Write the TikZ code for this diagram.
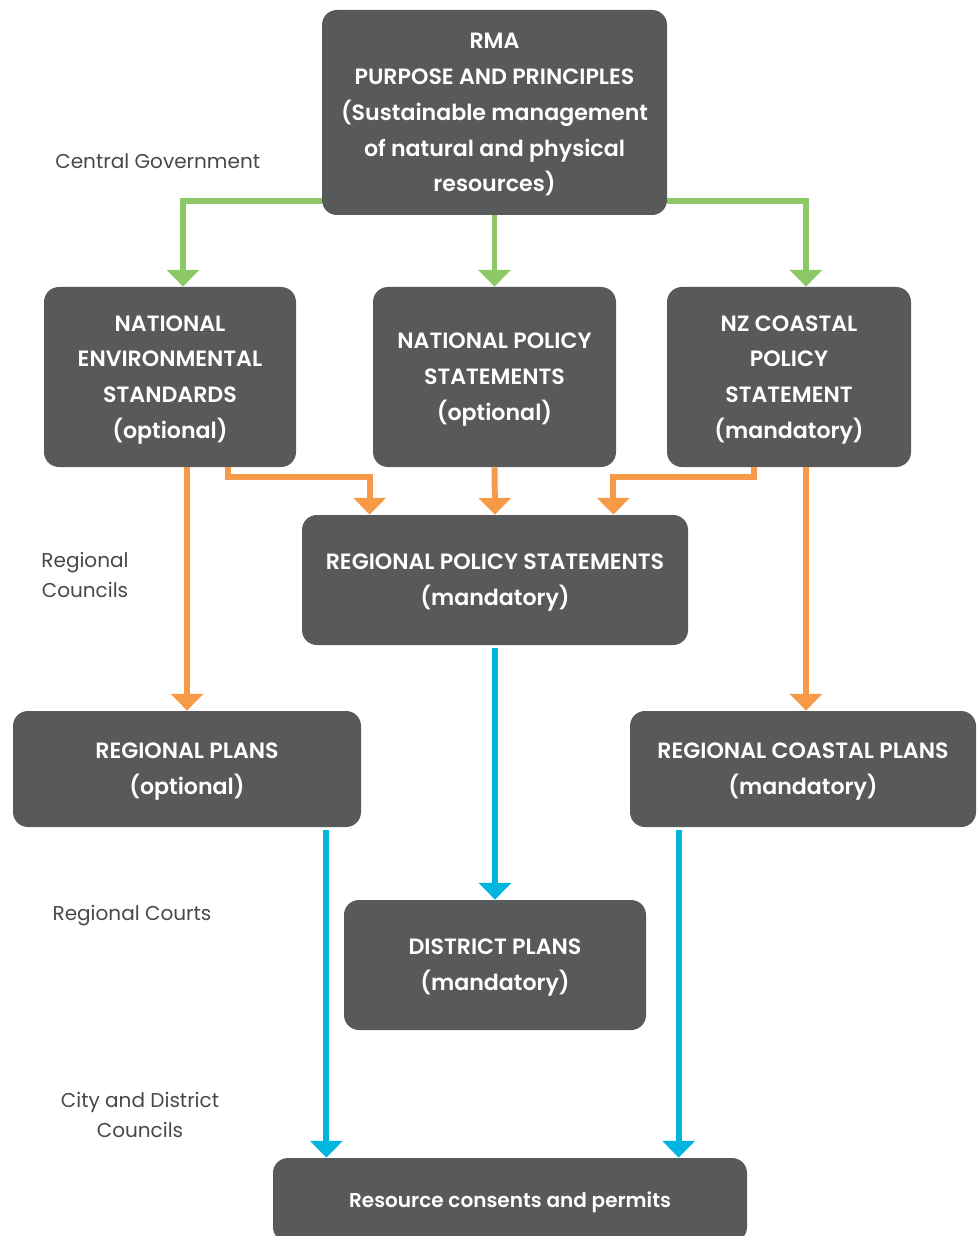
\documentclass[tikz,border=0pt]{standalone}
\usepackage{fontspec}
\setmainfont{Poppins}[BoldFont={Poppins SemiBold}]
\usepackage{tikz}
\usetikzlibrary{calc}
\usetikzlibrary{arrows.meta}
\definecolor{boxgray}{HTML}{58595B}
\definecolor{labelgray}{HTML}{48484A}
\definecolor{natgreen}{HTML}{8CC866}
\definecolor{regorange}{HTML}{F79A48}
\definecolor{distblue}{HTML}{00B6DE}
\tikzset{boxsize/.style 2 args={minimum width=#1*0.02cm, minimum height=#2*0.02cm}}
\tikzstyle{box}=[fill=boxgray, rounded corners=8.5pt, text=white, align=center, inner sep=0pt, text depth=-2.5pt, font=\fontsize{12.6}{20.4}\selectfont\bfseries]
\tikzstyle{lbl}=[text=labelgray, align=center, inner sep=0pt, font=\fontsize{11.4}{17}\selectfont]
\tikzstyle{flow}=[line width=3.4pt, ->]

\begin{document}
\begin{tikzpicture}[x=0.02cm, y=-0.02cm, >={Triangle[width=18pt,length=9.5pt]}]
                \useasboundingbox (0, 0) rectangle (976, 1236);
                \node [box, boxsize={345}{205}] (rma) at (494.5, 112.5) {RMA\\PURPOSE AND PRINCIPLES\\(Sustainable management\\of natural and physical\\resources)};
                \node [box, boxsize={252}{180}] (nes) at (170, 377) {NATIONAL\\ENVIRONMENTAL\\STANDARDS\\(optional)};
                \node [box, boxsize={243}{180}] (nps) at (494.5, 377) {NATIONAL POLICY\\STATEMENTS\\(optional)};
                \node [box, boxsize={244}{180}] (nzc) at (789, 377) {NZ COASTAL\\POLICY\\STATEMENT\\(mandatory)};
                \node [box, boxsize={386}{130}] (rps) at (495, 580) {REGIONAL POLICY STATEMENTS\\(mandatory)};
                \node [box, boxsize={348}{116}] (rp) at (187, 769) {REGIONAL PLANS\\(optional)};
                \node [box, boxsize={346}{116}] (rcp) at (803, 769) {REGIONAL COASTAL PLANS\\(mandatory)};
                \node [box, boxsize={302}{130}] (dp) at (495, 965) {DISTRICT PLANS\\(mandatory)};
                \node [box, boxsize={474}{84}, font=\fontsize{11.4}{20.4}\selectfont\bfseries] (rc) at (510, 1200) {Resource consents and permits};

                \node [lbl, anchor=west] (cg) at (55, 161) {Central Government};
                \node [lbl] (rcn) at (85, 575) {Regional\\Councils};
                \node [lbl] (rct) at (132, 916) {Regional Courts};
                \node [lbl] (cdc) at (140, 1115) {City and District\\Councils};

                \coordinate (g1) at ($(rma.south west)+(0,-14)$);
                \coordinate (g2) at ($(rma.south east)+(0,-14)$);
                \draw [natgreen, flow] (g1) -| ($(nes.north)+(13,0)$);
                \draw [natgreen, flow] (rma.south) -- (nps.north);
                \draw [natgreen, flow] (g2) -| ($(nzc.north)+(17,0)$);

                \coordinate (o1) at ($(nes.south)+(58,0)$);
                \coordinate (o2) at ($(nzc.south)+(-35,0)$);
                \coordinate (o3) at ($(nzc.south)+(17,0)$);
                \draw [regorange, flow] (nes.south -| rp.north) -- (rp.north);
                \draw [regorange, flow] (o1) -- ++(0, 10) -| ($(rps.north west)+(68,0)$);
                \draw [regorange, flow] (nps.south) -- (rps.north);
                \draw [regorange, flow] (o2) -- ++(0, 10) -| ($(rps.north east)+(-75,0)$);
                \draw [regorange, flow] (o3) -- (o3 |- rcp.north);

                \coordinate (b1) at ($(rp.south east)+(-35,3)$);
                \coordinate (b2) at ($(rcp.south west)+(49,3)$);
                \draw [distblue, flow] ($(rps.south)+(0,3)$) -- (dp.north);
                \draw [distblue, flow] (b1) -- (b1 |- rc.north);
                \draw [distblue, flow] (b2) -- (b2 |- rc.north);
            \end{tikzpicture}
\end{document}
